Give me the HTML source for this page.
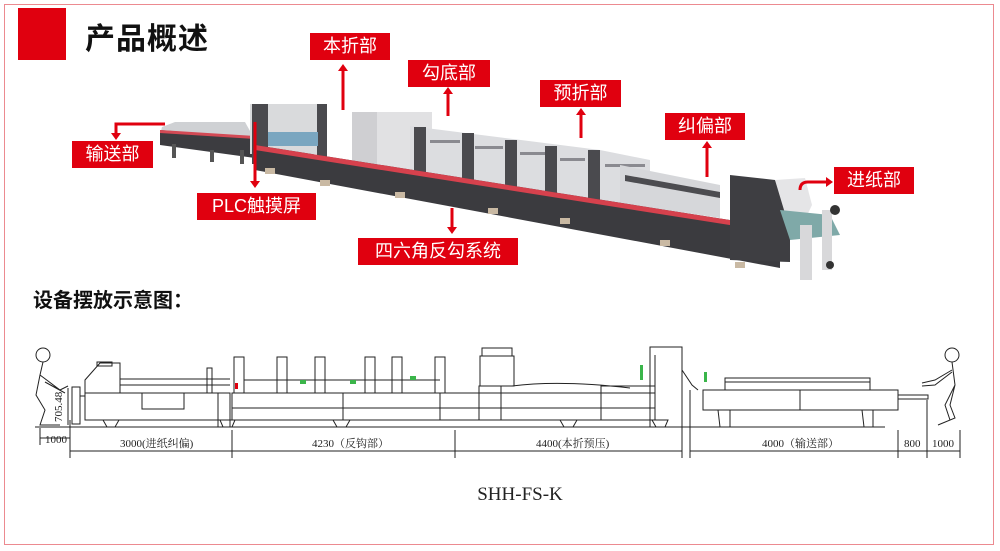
<!DOCTYPE html>
<html><head><meta charset="utf-8"><style>
html,body{margin:0;padding:0;background:#fff;}
body{width:1000px;height:551px;position:relative;overflow:hidden;font-family:"Liberation Sans","Noto Sans CJK SC",sans-serif;}
.frame{position:absolute;left:4px;top:4px;width:990px;height:541px;border:1px solid #ec8a90;box-sizing:border-box;}
.lab{position:absolute;background:#e0000f;color:#fff;font-size:18px;line-height:27px;text-align:center;}
</style></head><body>
<div class="frame"></div>
<div style="position:absolute;left:18px;top:8px;width:48px;height:52px;background:#e0000f"></div>
<div style="position:absolute;left:85px;top:14px;font-size:30px;font-weight:bold;color:#111;letter-spacing:1px">产品概述</div>
<div style="position:absolute;left:33px;top:284px;font-size:20px;font-weight:bold;color:#111">设备摆放示意图：</div>

<svg style="position:absolute;left:0;top:0" width="1000" height="551">
<!-- machine photo approximation -->
<polygon points="175,122 245,122 255,140 160,135 162,127" fill="#cfd1d4"/>
<polygon points="160,130 255,138 255,158 160,145" fill="#3c3c40"/>
<polygon points="160,130 255,136 255,139 160,133" fill="#d34a55"/>
<rect x="172" y="144" width="4" height="14" fill="#555"/><rect x="210" y="150" width="4" height="12" fill="#555"/><rect x="240" y="150" width="4" height="14" fill="#555"/>
<rect x="250" y="104" width="75" height="50" fill="#d9dadc"/>
<rect x="252" y="104" width="16" height="60" fill="#4a4a4e"/>
<rect x="317" y="104" width="10" height="60" fill="#4a4a4e"/>
<rect x="268" y="132" width="50" height="14" fill="#7aa6c0"/>
<rect x="352" y="112" width="80" height="60" fill="#e1e1e3"/>
<rect x="352" y="112" width="25" height="60" fill="#cfcfd2"/>
<polygon points="410,126 600,150 600,205 410,175" fill="#dcdde0"/>
<polygon points="600,150 650,160 650,212 600,205" fill="#dcdde0"/>
<g fill="#8a8a90"><rect x="430" y="140" width="30" height="3"/><rect x="475" y="146" width="28" height="3"/><rect x="520" y="152" width="25" height="3"/><rect x="560" y="158" width="25" height="3"/><rect x="605" y="164" width="40" height="3"/></g>
<rect x="414" y="127" width="12" height="55" fill="#4a4a4e"/>
<rect x="462" y="133" width="12" height="55" fill="#4a4a4e"/>
<rect x="505" y="140" width="12" height="55" fill="#4a4a4e"/>
<rect x="545" y="146" width="12" height="55" fill="#4a4a4e"/>
<rect x="588" y="150" width="12" height="60" fill="#4a4a4e"/>
<polygon points="620,165 720,185 720,218 620,203" fill="#d6d7da"/>
<polygon points="625,175 720,192 720,198 625,181" fill="#4c4c50"/>
<polygon points="255,145 780,228 780,268 255,170" fill="#3b3b3f"/>
<polygon points="255,145 780,228 780,233 255,150" fill="#d6414d"/>
<polygon points="730,175 775,180 790,210 790,262 730,260" fill="#3e3e42"/>
<polygon points="775,180 805,178 812,205 800,230 790,230" fill="#e5e5e7"/>
<polygon points="780,210 830,215 840,235 790,240" fill="#7fa9a8"/>
<rect x="800" y="225" width="12" height="55" fill="#d8d8da"/>
<rect x="822" y="210" width="10" height="60" fill="#d8d8da"/>
<circle cx="835" cy="210" r="5" fill="#333"/>
<circle cx="830" cy="265" r="4" fill="#333"/>
<g fill="#c9b9a3"><rect x="265" y="168" width="10" height="6"/><rect x="320" y="180" width="10" height="6"/><rect x="395" y="192" width="10" height="6"/><rect x="488" y="208" width="10" height="6"/><rect x="560" y="218" width="10" height="6"/><rect x="660" y="240" width="10" height="6"/><rect x="735" y="262" width="10" height="6"/></g>

<!-- arrows -->
<g stroke="#e0000f" stroke-width="3" fill="#e0000f">
<line x1="343" y1="110" x2="343" y2="70"/><polygon points="338,71 348,71 343,64" stroke="none"/>
<line x1="448" y1="116" x2="448" y2="93"/><polygon points="443,94 453,94 448,87" stroke="none"/>
<line x1="581" y1="138" x2="581" y2="114"/><polygon points="576,115 586,115 581,108" stroke="none"/>
<line x1="707" y1="177" x2="707" y2="147"/><polygon points="702,148 712,148 707,141" stroke="none"/>
<path d="M800 190 Q800 182 808 182 L826 182" fill="none"/><polygon points="826,177 826,187 833,182" stroke="none"/>
<path d="M165 124 L116 124 L116 134" fill="none"/><polygon points="111,133 121,133 116,140" stroke="none"/>
<line x1="255" y1="122" x2="255" y2="182"/><polygon points="250,181 260,181 255,188" stroke="none"/>
<line x1="452" y1="208" x2="452" y2="228"/><polygon points="447,227 457,227 452,234" stroke="none"/>
</g>

<!-- drawing -->
<g stroke="#222" stroke-width="1" fill="none">
<line x1="35" y1="427" x2="885" y2="427"/>
<circle cx="43" cy="355" r="7"/>
<path d="M43 362 L40 375 L36 395 L45 410 L40 425 L60 425 M40 375 L60 390 L68 386 M45 382 L65 393"/>
<rect x="72" y="387" width="8" height="37"/>
<line x1="80" y1="396" x2="85" y2="396"/>
<rect x="85" y="393" width="145" height="27"/>
<polygon points="85,393 85,380 100,363 120,363 120,393"/>
<rect x="97" y="362" width="15" height="4"/>
<line x1="120" y1="379" x2="230" y2="379"/>
<line x1="120" y1="385" x2="230" y2="385"/>
<rect x="142" y="393" width="42" height="16"/>
<rect x="207" y="368" width="5" height="25"/>
<rect x="218" y="393" width="12" height="34"/>
<polygon points="103,420 119,420 115,427 107,427"/>
<polygon points="220,420 235,420 232,427 223,427"/>
<rect x="232" y="393" width="208" height="27"/>
<line x1="232" y1="408" x2="440" y2="408"/>
<line x1="343" y1="393" x2="343" y2="420"/>
<rect x="234" y="357" width="10" height="36"/><rect x="277" y="357" width="10" height="36"/>
<rect x="315" y="357" width="10" height="36"/><rect x="365" y="357" width="10" height="36"/>
<rect x="392" y="357" width="10" height="36"/><rect x="435" y="357" width="10" height="36"/>
<line x1="244" y1="380" x2="440" y2="380"/>
<polygon points="333,420 350,420 346,427 337,427"/>
<rect x="440" y="393" width="215" height="27"/>
<line x1="440" y1="408" x2="655" y2="408"/>
<rect x="482" y="348" width="30" height="8"/><rect x="480" y="356" width="34" height="30"/>
<path d="M512 386 Q560 380 630 388"/>
<rect x="479" y="386" width="22" height="34"/>
<rect x="601" y="386" width="54" height="34"/>
<polygon points="560,420 577,420 573,427 564,427"/>
<rect x="650" y="347" width="32" height="80"/>
<line x1="655" y1="355" x2="655" y2="420"/>
<polygon points="652,420 668,420 665,427 656,427"/>
<path d="M682 370 L692 385 L698 390"/>
<rect x="703" y="390" width="195" height="20"/>
<line x1="800" y1="390" x2="800" y2="410"/>
<rect x="725" y="378" width="145" height="12"/>
<line x1="725" y1="382" x2="870" y2="382"/>
<polygon points="718,410 730,410 730,427 720,427"/>
<polygon points="862,410 873,410 873,427 864,427"/>
<rect x="898" y="395" width="30" height="4"/>
<circle cx="952" cy="355" r="7"/>
<path d="M952 362 L955 385 L950 405 L955 418 L938 425 M952 370 L935 380 L922 383 M952 372 L935 385 L922 386 M955 385 L945 405 L950 420"/>
<line x1="70" y1="451" x2="682" y2="451"/>
<line x1="690" y1="451" x2="960" y2="451"/>
<line x1="40" y1="438" x2="70" y2="438"/>
<line x1="70" y1="420" x2="70" y2="458"/><line x1="232" y1="430" x2="232" y2="458"/>
<line x1="455" y1="430" x2="455" y2="458"/><line x1="682" y1="420" x2="682" y2="458"/>
<line x1="690" y1="390" x2="690" y2="458"/><line x1="898" y1="430" x2="898" y2="458"/>
<line x1="927" y1="400" x2="927" y2="458"/><line x1="960" y1="430" x2="960" y2="458"/>
<line x1="40" y1="428" x2="40" y2="445"/>
<line x1="68" y1="388" x2="68" y2="425"/>
</g>
<g fill="#e0000f"><rect x="235" y="383" width="3" height="6"/></g>
<g fill="#3ab54a"><rect x="300" y="380" width="6" height="4"/><rect x="350" y="380" width="6" height="4"/><rect x="410" y="376" width="6" height="4"/><rect x="640" y="365" width="3" height="15"/><rect x="704" y="372" width="3" height="10"/></g>
<g font-family="Liberation Serif,'Noto Serif CJK SC',serif" font-size="11" fill="#222">
<text x="45" y="443">1000</text>
<text x="120" y="447">3000(进纸纠偏)</text>
<text x="312" y="447">4230（反钩部）</text>
<text x="536" y="447">4400(本折预压)</text>
<text x="762" y="447">4000（输送部）</text>
<text x="904" y="447">800</text>
<text x="932" y="447">1000</text>
<text transform="translate(62,422) rotate(-90)">705.48</text>
</g>
<text x="520" y="500" text-anchor="middle" font-family="Liberation Serif,serif" font-size="19" fill="#222">SHH-FS-K</text>
</svg>

<div class="lab" style="left:310px;top:33px;width:80px">本折部</div>
<div class="lab" style="left:408px;top:60px;width:82px">勾底部</div>
<div class="lab" style="left:540px;top:80px;width:81px">预折部</div>
<div class="lab" style="left:665px;top:113px;width:80px">纠偏部</div>
<div class="lab" style="left:834px;top:167px;width:80px">进纸部</div>
<div class="lab" style="left:72px;top:141px;width:81px">输送部</div>
<div class="lab" style="left:197px;top:193px;width:119px">PLC触摸屏</div>
<div class="lab" style="left:358px;top:238px;width:160px">四六角反勾系统</div>
</body></html>
